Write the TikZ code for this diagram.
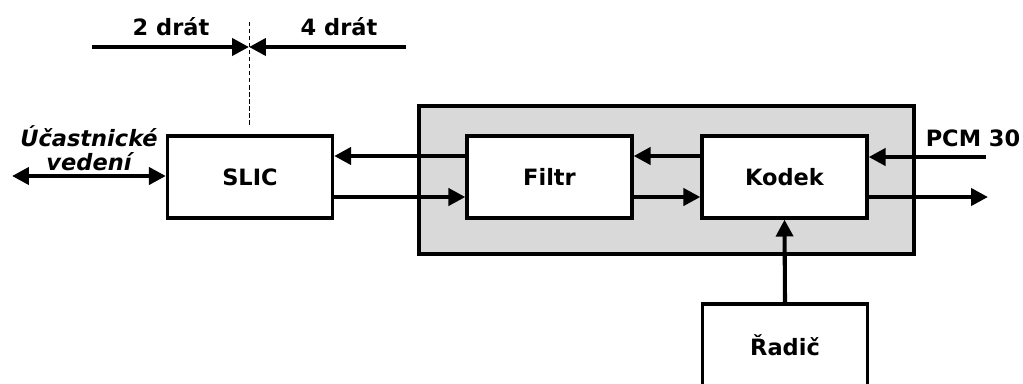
\documentclass[tikz,border=0pt]{standalone}
\usepackage{fontspec}
\setmainfont{DejaVu Sans}
\usetikzlibrary{arrows.meta}
\begin{document}
\begin{tikzpicture}[x=0.025cm,y=-0.025cm,line width=2.3pt,
  popis/.style={font=\fontsize{16}{17}\selectfont\bfseries},
  blok/.style={draw,fill=white,popis,minimum width=4.125cm,minimum height=2.05cm,inner sep=0pt},
  sip/.style={line width=2.9pt,-{Triangle[length=12pt,width=12pt]}},
  dvojsip/.style={line width=2.9pt,{Triangle[length=12pt,width=12pt]}-{Triangle[length=12pt,width=12pt]}}]
\useasboundingbox (0,0) rectangle (1023,383);
\node[draw,fill=black!15,minimum width=12.375cm,minimum height=3.7cm] (obal) at (666.5,180) {};
\node[blok] (slic) at (250,177) {SLIC};
\node[blok] (filtr) at (549.5,177) {Filtr};
\node[blok] (kodek) at (784.5,177) {Kodek};
\node[blok] (radic) at (785,345) {Řadič};
\coordinate (nahore) at (0,156);
\coordinate (dole) at (0,197);
\coordinate (pcmin) at (986,157);
\coordinate (pcmout) at (988,197);
\coordinate (vedeni) at (12,176);
\coordinate (dratl) at (92,47);
\coordinate (dratm) at (249,47);
\coordinate (dratr) at (406,47);
\coordinate (delhore) at (249,22);
\coordinate (deldole) at (249,125);
\draw[sip] (filtr.west |- nahore) -- (slic.east |- nahore);
\draw[sip] (slic.east |- dole) -- (filtr.west |- dole);
\draw[sip] (kodek.west |- nahore) -- (filtr.east |- nahore);
\draw[sip] (filtr.east |- dole) -- (kodek.west |- dole);
\draw[sip] (pcmin) -- (kodek.east |- pcmin);
\draw[sip] (kodek.east |- pcmout) -- (pcmout);
\draw[sip] (radic.north) -- (kodek.south);
\draw[dvojsip] (vedeni) -- (slic.west |- vedeni);
\draw[sip] (dratl) -- (dratm);
\draw[sip] (dratr) -- (dratm);
\draw[line width=0.7pt,dash pattern=on 3pt off 2pt] (delhore) -- (deldole);
\node[popis] (dva) at (171,27) {2 drát};
\node[popis] (ctyri) at (339,27) {4 drát};
\node[popis,font=\fontsize{16}{17}\selectfont\bfseries\itshape,align=center] (ucast) at (89,148) {Účastnické\\vedení};
\node[popis] (pcm) at (973,138) {PCM 30};
\end{tikzpicture}
\end{document}
